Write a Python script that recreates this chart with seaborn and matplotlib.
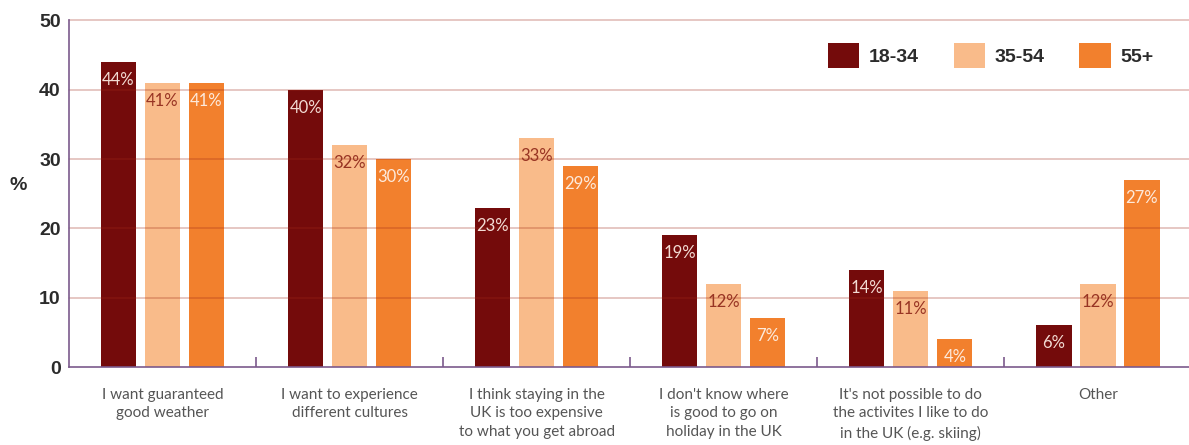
import matplotlib
matplotlib.use("Agg")
import matplotlib.pyplot as plt
from matplotlib.patches import Patch
from matplotlib.ticker import FixedLocator
import seaborn as sns
import pandas as pd

# Reasons for preferring a holiday abroad, by age group (%)
categories = [
    "I want guaranteed\ngood weather",
    "I want to experience\ndifferent cultures",
    "I think staying in the\nUK is too expensive\nto what you get abroad",
    "I don't know where\nis good to go on\nholiday in the UK",
    "It's not possible to do\nthe activites I like to do\nin the UK (e.g. skiing)",
    "Other",
]
age_groups = ["18-34", "35-54", "55+"]
values_18_34 = [44, 40, 23, 19, 14, 6]
values_35_54 = [41, 32, 33, 12, 11, 12]
values_55_plus = [41, 30, 29, 7, 4, 27]
y_ticks = [0, 10, 20, 30, 40, 50]

colors = ["#740b0b", "#f9bb8a", "#f2802d"]
label_colors = ["#f3dcd4", "#983423", "#fdeadc"]
purple = "#7b5a8c"
text_dark = "#2b2b2b"

rows = []
for grp, vals in zip(age_groups, [values_18_34, values_35_54, values_55_plus]):
    for cat, v in zip(categories, vals):
        rows.append({"category": cat, "group": grp, "value": v})
df = pd.DataFrame(rows)

sns.set_theme(style="white")
plt.rcParams["font.family"] = ["Lato", "DejaVu Sans"]

fig = plt.figure(figsize=(11.89, 4.45), dpi=100)
W, H = 1189, 445
ax = fig.add_axes([69 / W, 1 - 367 / H, (1191.5 - 69) / W, (367 - 20.5) / H])

sns.barplot(
    data=df, x="category", y="value", hue="group",
    order=categories, hue_order=age_groups, palette=colors,
    width=0.705, gap=0.2, saturation=1, legend=False, ax=ax,
    err_kws={"linewidth": 0}, linewidth=0,
)

ax.set_xlim(-0.5, len(categories) - 0.5)
ax.set_ylim(0, 50)

# Value labels inside the top of every bar
for i, container in enumerate(ax.containers):
    for bar, val in zip(container, [values_18_34, values_35_54, values_55_plus][i]):
        x = bar.get_x() + bar.get_width() / 2
        y_px = ax.transData.transform((x, val))[1] - 18
        y = ax.transData.inverted().transform((0, y_px))[1]
        ax.text(x, y, f"{val}%", ha="center", va="center", zorder=8,
                fontsize=12, fontweight="normal", color=label_colors[i])

# Horizontal gridlines drawn over the bars
for t in y_ticks[1:]:
    ax.axhline(t, color="#a02a18", alpha=0.33, linewidth=1.1, zorder=5, clip_on=False)

ax.set_yticks(y_ticks)
ax.set_yticklabels([str(t) for t in y_ticks], fontsize=14, fontweight="bold",
                   color=text_dark, family=["Liberation Sans", "DejaVu Sans"])
ax.tick_params(axis="y", length=0, pad=6)

ax.set_xticks(range(len(categories)))
ax.set_xticklabels(categories, fontsize=11, color="#555555", linespacing=1.42,
                   va="top")
ax.tick_params(axis="x", which="major", length=0, pad=15)
ax.xaxis.set_minor_locator(FixedLocator([i + 0.5 for i in range(len(categories) - 1)]))
ax.tick_params(axis="x", which="minor", direction="in", length=7, width=1.2,
               color=purple, bottom=True)

ax.set_xlabel("")
ax.set_ylabel("%", rotation=0, fontsize=14, fontweight="bold", color=text_dark,
              family=["Liberation Sans", "DejaVu Sans"])
ax.yaxis.set_label_coords(-0.045, 0.5)

for side in ["top", "right"]:
    ax.spines[side].set_visible(False)
for side in ["left", "bottom"]:
    ax.spines[side].set_color(purple)
    ax.spines[side].set_linewidth(1.2)
    ax.spines[side].set_zorder(6)

handles = [Patch(facecolor=c, edgecolor="none", label=g) for c, g in zip(colors, age_groups)]
leg = ax.legend(
    handles=handles, ncol=3, loc="center left", bbox_to_anchor=(0.676, 0.899),
    frameon=False, borderpad=0, borderaxespad=0, handlelength=1.6, handleheight=1.6,
    handletextpad=0.5, columnspacing=1.8,
    prop={"family": ["Liberation Sans", "DejaVu Sans"], "weight": "bold", "size": 14},
)
for t in leg.get_texts():
    t.set_color(text_dark)

fig.savefig("out.png", dpi=100)
